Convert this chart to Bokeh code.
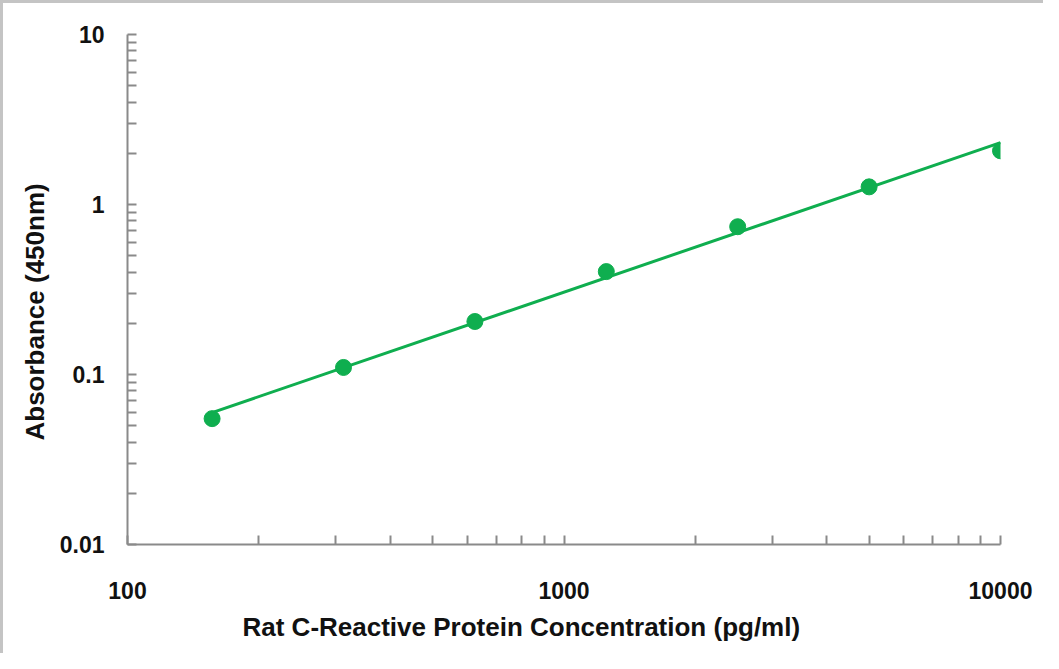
import numpy as np
from bokeh.plotting import figure
from bokeh.models import FixedTicker, Title
from bokeh.embed import file_html
from bokeh.resources import INLINE

# ---- data ----
concentration = [156.25, 312.5, 625, 1250, 2500, 5000, 10000]
absorbance = [0.055, 0.110, 0.205, 0.403, 0.740, 1.27, 2.07]
x_ticks = [100, 1000, 10000]
x_tick_labels = ["100", "1000", "10000"]
y_ticks = [0.01, 0.1, 1, 10]
y_tick_labels = ["0.01", "0.1", "1", "10"]
x_title = "Rat C-Reactive Protein Concentration (pg/ml)"
y_title = "Absorbance (450nm)"

# power-law trend line (straight line in log-log), fitted to the points
slope, intercept = np.polyfit(np.log10(concentration), np.log10(absorbance), 1)
fit_x = [concentration[0], concentration[-1]]
fit_y = [10 ** (intercept + slope * np.log10(v)) for v in fit_x]

GREEN = "#0fae4f"
AXIS = "#8a8a8a"
FONT = "Liberation Sans"

p = figure(width=1043, height=653, x_axis_type="log", y_axis_type="log",
           x_range=(x_ticks[0], x_ticks[-1]), y_range=(y_ticks[0], y_ticks[-1]),
           output_backend="svg", toolbar_location=None,
           min_border_left=124, min_border_right=46, min_border_top=31,
           min_border_bottom=112)
p.outline_line_color = None
p.xgrid.visible = False
p.ygrid.visible = False
p.styles = {"border-left": "3px solid #c4c4c4", "border-top": "3px solid #c4c4c4"}

def minors(majors):
    out = []
    for m in majors[:-1]:
        out += [m * k for k in range(2, 10)]
    return out

p.xaxis.ticker = FixedTicker(ticks=x_ticks, minor_ticks=minors(x_ticks))
p.yaxis.ticker = FixedTicker(ticks=y_ticks, minor_ticks=minors(y_ticks))
p.xaxis.major_label_overrides = {t: s for t, s in zip(x_ticks, x_tick_labels)}
p.yaxis.major_label_overrides = {t: s for t, s in zip(y_ticks, y_tick_labels)}

for ax in (p.xaxis[0], p.yaxis[0]):
    ax.axis_line_color = AXIS
    ax.axis_line_width = 2
    ax.major_tick_line_color = AXIS
    ax.minor_tick_line_color = AXIS
    ax.major_tick_line_width = 2
    ax.minor_tick_line_width = 2
    ax.major_tick_in = 9
    ax.major_tick_out = 0
    ax.minor_tick_in = 9
    ax.minor_tick_out = 0
    ax.major_label_text_font = FONT
    ax.major_label_text_font_style = "bold"
    ax.major_label_text_font_size = "23px"
    ax.major_label_text_color = "#111111"

p.xaxis.major_label_standoff = 37
p.yaxis.major_label_standoff = 23

p.add_layout(Title(text=x_title, align="left", offset=115, standoff=16,
                   text_font=FONT, text_font_style="bold",
                   text_font_size="26px", text_color="#111111"), "below")
p.add_layout(Title(text=y_title, align="left", offset=104, standoff=14,
                   text_font=FONT, text_font_style="bold",
                   text_font_size="26px", text_color="#111111"), "left")

p.line(fit_x, fit_y, line_color=GREEN, line_width=3)
p.scatter(concentration, absorbance, size=16, fill_color=GREEN, line_color=GREEN)

open("out.html", "w").write(file_html(p, INLINE))
